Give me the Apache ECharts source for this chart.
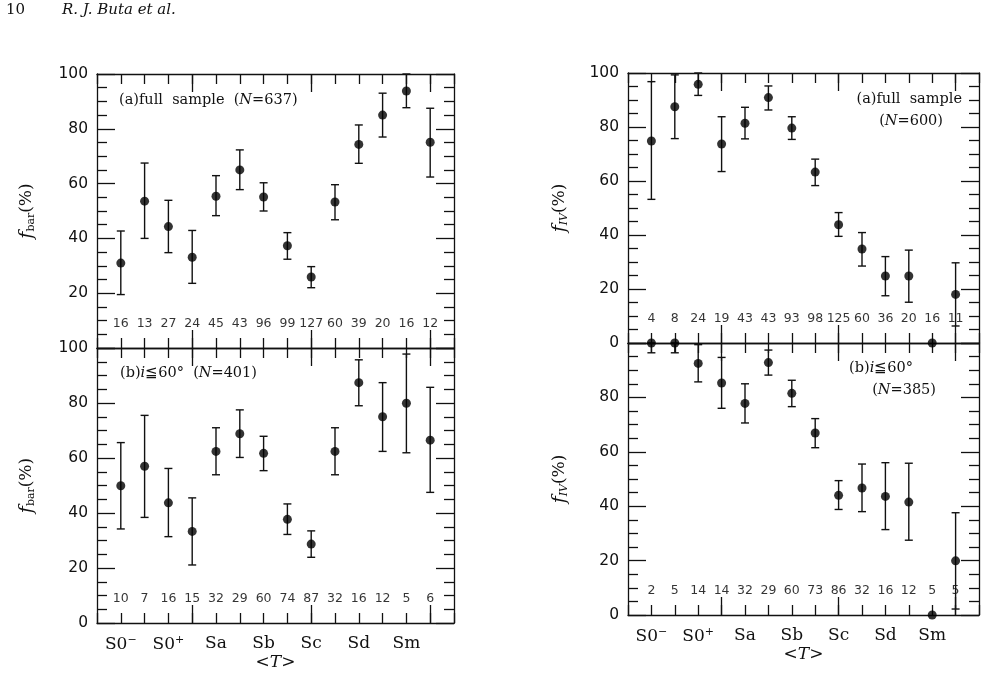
<!DOCTYPE html>
<html>
<head>
<meta charset="utf-8">
<script src="https://cdn.jsdelivr.net/npm/echarts@6/dist/echarts.min.js"></script>
<style>
  html, body { margin: 0; padding: 0; background: #fff; }
  #main { width: 987px; height: 691px; }
</style>
</head>
<body>
<div id="main"></div>
<script>
// morphological type T of each bin
var tValues = [-3, -2, -1, 0, 1, 2, 3, 4, 5, 6, 7, 8, 9, 10];
var typeTicks = [-3, -1, 1, 3, 5, 7, 9];
var typeNames = ['S0{sup|−}', 'S0{sup|+}', 'Sa', 'Sb', 'Sc', 'Sd', 'Sm'];
var majorT = [0, 5, 10];

// (a) full sample, bar fraction
var fbarAll   = [31.0, 53.6, 44.3, 33.1, 55.4, 65.0, 55.1, 37.3, 25.9, 53.3, 74.3, 85.0, 93.8, 75.1];
var fbarAllLo = [19.5, 40.0, 34.8, 23.6, 48.3, 57.8, 50.0, 32.4, 22.0, 46.8, 67.4, 77.0, 87.7, 62.4];
var fbarAllHi = [42.7, 67.5, 53.9, 42.9, 62.9, 72.3, 60.3, 42.1, 29.7, 59.6, 81.4, 93.0, 100, 87.5];
var fbarAllN  = [16, 13, 27, 24, 45, 43, 96, 99, 127, 60, 39, 20, 16, 12];

// (b) i <= 60 deg, bar fraction
var fbarLow   = [49.9, 57.0, 43.7, 33.3, 62.4, 68.8, 61.7, 37.7, 28.7, 62.4, 87.4, 75.0, 79.9, 66.5];
var fbarLowLo = [34.2, 38.4, 31.4, 21.1, 53.9, 60.2, 55.4, 32.2, 23.9, 53.9, 79.0, 62.4, 61.9, 47.5];
var fbarLowHi = [65.6, 75.5, 56.2, 45.5, 71.0, 77.5, 67.9, 43.3, 33.5, 71.0, 95.7, 87.4, 97.8, 85.7];
var fbarLowN  = [10, 7, 16, 15, 32, 29, 60, 74, 87, 32, 16, 12, 5, 6];

// (a) full sample, f_IV
var fivAll   = [74.8, 87.5, 95.8, 73.7, 81.4, 90.9, 79.6, 63.3, 43.8, 34.8, 24.8, 24.8, 0, 18.0];
var fivAllLo = [53.2, 75.7, 91.7, 63.5, 75.6, 86.3, 75.4, 58.3, 39.5, 28.5, 17.5, 15.1, null, 6.3];
var fivAllHi = [96.8, 99.3, 100, 83.8, 87.3, 95.2, 83.8, 68.1, 48.3, 40.9, 32.0, 34.4, null, 29.7];
var fivAllN  = [4, 8, 24, 19, 43, 43, 93, 98, 125, 60, 36, 20, 16, 11];

// (b) i <= 60 deg, f_IV
var fivLow   = [100, 100, 92.5, 85.3, 77.8, 92.8, 81.5, 66.9, 44.0, 46.7, 43.6, 41.5, 0, 19.9];
var fivLowLo = [96.4, 96.4, 85.7, 76.0, 70.6, 88.2, 76.6, 61.5, 38.8, 38.0, 31.4, 27.5, null, 2.2];
var fivLowHi = [100, 100, 99.4, 94.7, 85.0, 97.4, 86.3, 72.2, 49.4, 55.5, 56.0, 55.8, null, 37.6];
var fivLowN  = [2, 5, 14, 14, 32, 29, 60, 73, 86, 32, 16, 12, 5, 5];

var nLabelY = 9; // row of sample counts

var INK = '#111';
var SANS = 'DejaVu Sans';
var SERIF = 'DejaVu Serif';

var panels = [
  { grid: { left: 97, width: 357, top: 74, height: 274 }, val: fbarAll, lo: fbarAllLo, hi: fbarAllHi, n: fbarAllN,
    yname: 'bar', hide: [0], bottom: false },
  { grid: { left: 97, width: 357, top: 348, height: 275 }, val: fbarLow, lo: fbarLowLo, hi: fbarLowHi, n: fbarLowN,
    yname: 'bar', hide: [], bottom: true },
  { grid: { left: 628, width: 351, top: 73, height: 270 }, val: fivAll, lo: fivAllLo, hi: fivAllHi, n: fivAllN,
    yname: 'IV', hide: [], bottom: false },
  { grid: { left: 628, width: 351, top: 343, height: 272 }, val: fivLow, lo: fivLowLo, hi: fivLowHi, n: fivLowN,
    yname: 'IV', hide: [100], bottom: true }
];

function errorBarItem(params, api) {
  var lo = api.value(1), hi = api.value(2);
  if (isNaN(lo) || isNaN(hi)) return null;
  var top = api.coord([api.value(0), hi]);
  var bot = api.coord([api.value(0), lo]);
  var w = 4;
  var st = { stroke: INK, lineWidth: 1.4 };
  return {
    type: 'group',
    children: [
      { type: 'line', shape: { x1: top[0], y1: top[1], x2: bot[0], y2: bot[1] }, style: st },
      { type: 'line', shape: { x1: top[0] - w, y1: top[1], x2: top[0] + w, y2: top[1] }, style: st },
      { type: 'line', shape: { x1: bot[0] - w, y1: bot[1], x2: bot[0] + w, y2: bot[1] }, style: st }
    ]
  };
}

var grids = [], xAxes = [], yAxes = [], series = [];
var lineStyle = { color: INK, width: 1.3 };

panels.forEach(function (p, i) {
  grids.push(p.grid);

  // y axes: left with labels, right ticks only
  var hide = p.hide;
  var yName = p.yname === 'bar'
    ? '{f|f}{sub|bar}{t|(%)}'
    : '{f|f}{subi|IV}{t|(%)}';
  ['left', 'right'].forEach(function (pos) {
    yAxes.push({
      type: 'value', gridIndex: i, position: pos, min: 0, max: 100, interval: 20,
      axisLine: { show: true, onZero: false, lineStyle: lineStyle },
      axisTick: { show: true, inside: true, length: 18, lineStyle: lineStyle },
      minorTick: { show: true, splitNumber: 4, length: 10, lineStyle: lineStyle },
      splitLine: { show: false },
      axisLabel: {
        show: pos === 'left', margin: 9, color: INK, fontFamily: SANS, fontSize: 15.5,
        formatter: function (v) { return hide.indexOf(v) >= 0 ? '' : v; }
      },
      name: pos === 'left' ? yName : '',
      nameLocation: 'middle', nameRotate: 90, nameGap: p.yname === 'bar' ? 60 : 58,
      nameTextStyle: {
        color: INK,
        rich: {
          f: { fontFamily: SERIF, fontStyle: 'italic', fontSize: 19 },
          sub: { fontFamily: SERIF, fontSize: 11, verticalAlign: 'bottom', padding: [9, 0, 0, 0] },
          subi: { fontFamily: SERIF, fontStyle: 'italic', fontSize: 11, verticalAlign: 'bottom', padding: [9, 0, 0, 0] },
          t: { fontFamily: SERIF, fontSize: 17 }
        }
      }
    });
  });

  // x axes: minor (every type) and major (0,5,10) ticks on bottom and top
  ['bottom', 'top'].forEach(function (pos) {
    xAxes.push({
      type: 'value', gridIndex: i, position: pos, min: -4, max: 11, interval: 1,
      axisLine: { show: true, onZero: false, lineStyle: lineStyle },
      axisTick: { show: true, inside: true, length: 10, lineStyle: lineStyle },
      axisLabel: { show: false },
      splitLine: { show: false }
    });
    var labelled = p.bottom && pos === 'bottom';
    xAxes.push({
      type: 'value', gridIndex: i, position: pos, min: -4, max: 11,
      axisLine: { show: false, onZero: false },
      axisTick: { show: true, inside: true, length: 18, lineStyle: lineStyle, customValues: majorT },
      axisLabel: {
        show: labelled, customValues: typeTicks, margin: 12, color: INK,
        fontFamily: SERIF, fontSize: 17,
        formatter: function (v) { return typeNames[typeTicks.indexOf(v)]; },
        rich: { sup: { fontFamily: SERIF, fontSize: 11, verticalAlign: 'top', padding: [0, 0, 8, 0] } }
      },
      splitLine: { show: false },
      name: labelled ? '<{i|T}>' : '',
      nameLocation: 'middle', nameGap: 30,
      nameTextStyle: {
        color: INK, fontFamily: SERIF, fontSize: 17,
        rich: { i: { fontFamily: SERIF, fontStyle: 'italic', fontSize: 17 } }
      }
    });
  });

  var xi = i * 4, yi = i * 2;

  series.push({
    type: 'custom', xAxisIndex: xi, yAxisIndex: yi, renderItem: errorBarItem, z: 3,
    encode: { x: 0, y: [1, 2] },
    data: tValues.map(function (t, k) { return [t, p.lo[k], p.hi[k]]; })
  });
  series.push({
    type: 'scatter', xAxisIndex: xi, yAxisIndex: yi, symbol: 'circle', symbolSize: 9,
    itemStyle: { color: '#000' }, z: 4, clip: false,
    data: tValues.map(function (t, k) { return [t, p.val[k]]; })
  });
  series.push({
    type: 'scatter', xAxisIndex: xi, yAxisIndex: yi, symbolSize: 0, z: 2, silent: true,
    label: {
      show: true, position: 'inside', color: '#000', fontFamily: SANS, fontSize: 12.5,
      formatter: function (d) { return String(p.n[d.dataIndex]); }
    },
    data: tValues.map(function (t) { return [t, nLabelY]; })
  });
});

var chart = echarts.init(document.getElementById('main'), null, { renderer: 'canvas' });
chart.setOption({
  animation: false,
  backgroundColor: '#fff',
  grid: grids,
  xAxis: xAxes,
  yAxis: yAxes,
  series: series,
  graphic: [
    { type: 'text', left: 6, top: 3, style: { text: '10', font: '15px "DejaVu Serif"', fill: INK } },
    { type: 'text', left: 62, top: 3, style: { text: 'R. J. Buta et al.', font: 'italic 15px "DejaVu Serif"', fill: INK } },
    { type: 'text', left: 119, top: 93, style: {
        text: '(a)full  sample  ({i|N}=637)', font: '14.5px "DejaVu Serif"', fill: INK,
        rich: { i: { fontStyle: 'italic', fontFamily: SERIF, fontSize: 14.5 } } } },
    { type: 'text', left: 120, top: 366, style: {
        text: '(b){i|i}≦60°  ({i|N}=401)', font: '14.5px "DejaVu Serif"', fill: INK,
        rich: { i: { fontStyle: 'italic', fontFamily: SERIF, fontSize: 14.5 } } } },
    { type: 'text', right: 25, top: 92, style: {
        text: '(a)full  sample', font: '14.5px "DejaVu Serif"', fill: INK } },
    { type: 'text', right: 44, top: 114, style: {
        text: '({i|N}=600)', font: '14.5px "DejaVu Serif"', fill: INK,
        rich: { i: { fontStyle: 'italic', fontFamily: SERIF, fontSize: 14.5 } } } },
    { type: 'text', right: 74, top: 361, style: {
        text: '(b){i|i}≦60°', font: '14.5px "DejaVu Serif"', fill: INK,
        rich: { i: { fontStyle: 'italic', fontFamily: SERIF, fontSize: 14.5 } } } },
    { type: 'text', right: 51, top: 383, style: {
        text: '({i|N}=385)', font: '14.5px "DejaVu Serif"', fill: INK,
        rich: { i: { fontStyle: 'italic', fontFamily: SERIF, fontSize: 14.5 } } } }
  ]
});
</script>
</body>
</html>
